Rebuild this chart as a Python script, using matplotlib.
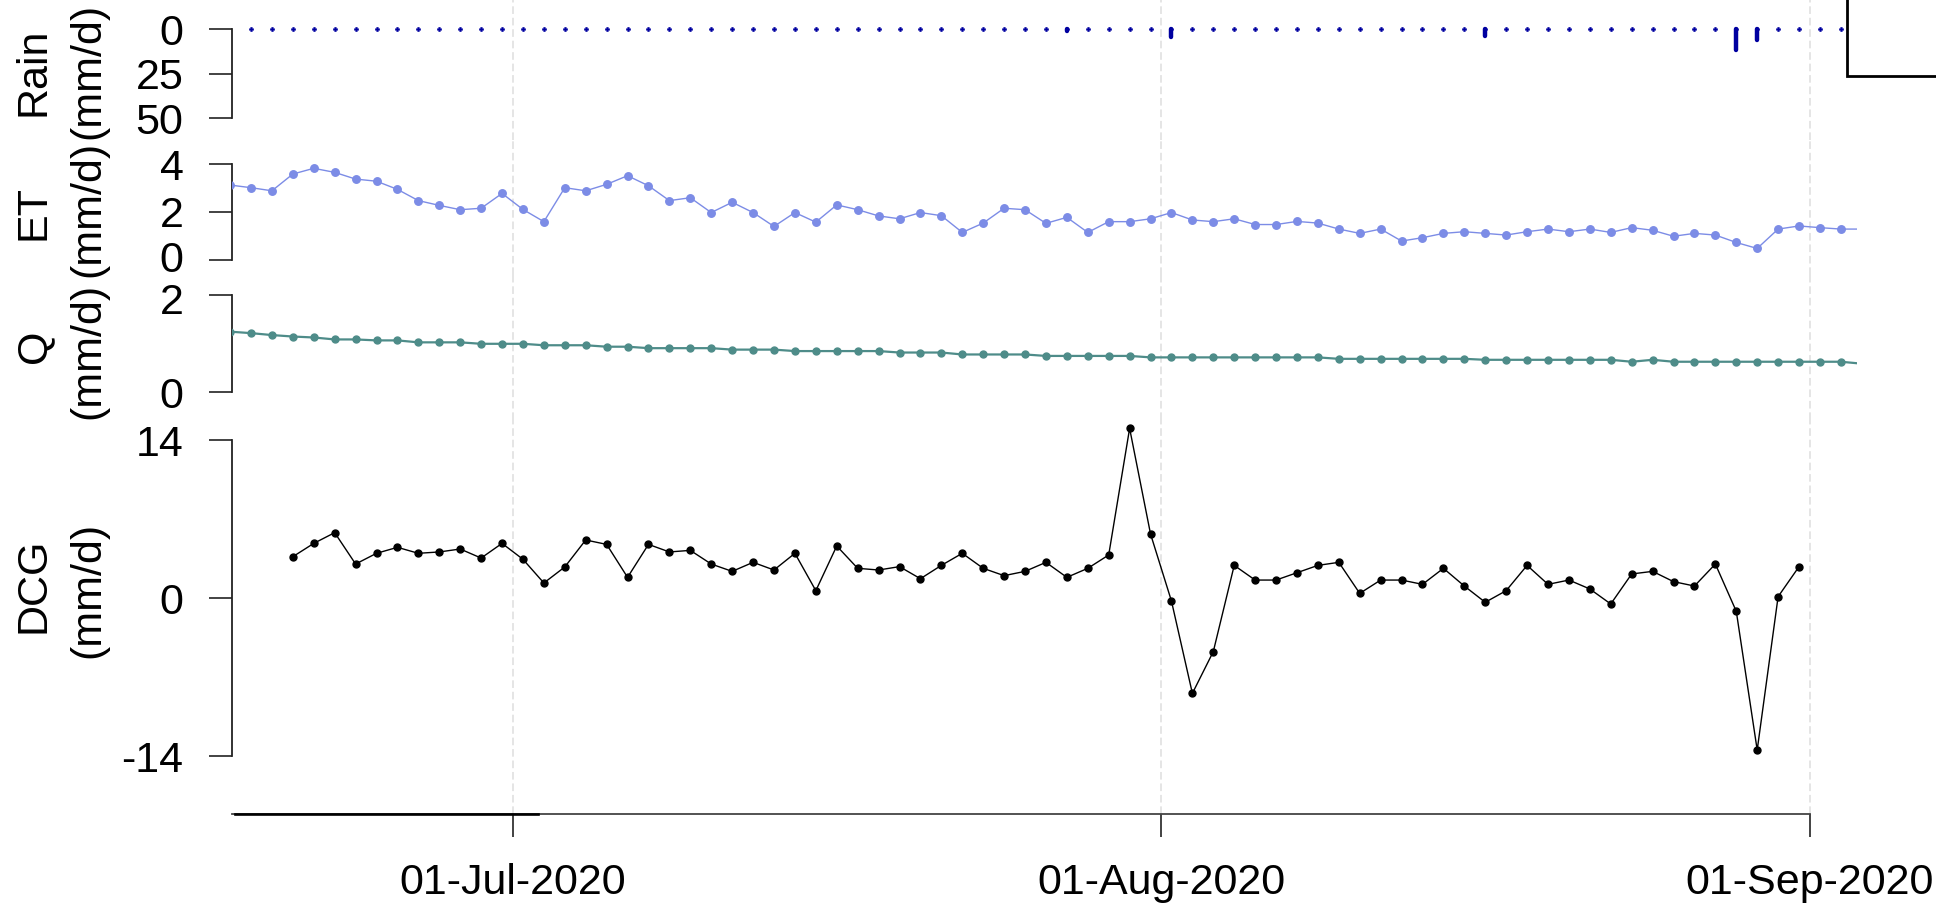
import numpy as np
import pandas as pd
import matplotlib
matplotlib.use('Agg')
import matplotlib.pyplot as plt
import matplotlib.dates as mdates
from matplotlib.patches import Rectangle
from matplotlib.transforms import offset_copy

plt.rcParams['font.family'] = ['Liberation Sans', 'DejaVu Sans']

# daily series, 17-Jun-2020 .. 03-Sep-2020 (values at noon)
days = pd.date_range('2020-06-17 12:00', periods=79, freq='D')

et = [3.12, 3.01, 2.88, 3.58, 3.82, 3.65, 3.37, 3.28, 2.94, 2.47,
      2.27, 2.09, 2.15, 2.77, 2.10, 1.59, 3.01, 2.88, 3.15, 3.51,
      3.09, 2.47, 2.59, 1.97, 2.40, 1.97, 1.39, 1.97, 1.57, 2.29,
      2.09, 1.83, 1.71, 1.97, 1.84, 1.14, 1.53, 2.15, 2.09, 1.52,
      1.77, 1.14, 1.59, 1.59, 1.71, 1.97, 1.66, 1.59, 1.71, 1.47,
      1.47, 1.60, 1.53, 1.28, 1.10, 1.28, 0.78, 0.92, 1.10, 1.17,
      1.10, 1.03, 1.17, 1.28, 1.17, 1.28, 1.14, 1.34, 1.23, 0.98,
      1.10, 1.03, 0.72, 0.47, 1.28, 1.41, 1.34, 1.28, 1.28]

q = [1.25, 1.22, 1.18, 1.15, 1.13, 1.09, 1.09, 1.07, 1.07, 1.03,
     1.03, 1.03, 1.00, 1.00, 1.00, 0.97, 0.97, 0.97, 0.94, 0.94,
     0.91, 0.91, 0.91, 0.91, 0.88, 0.88, 0.88, 0.85, 0.85, 0.85,
     0.85, 0.85, 0.82, 0.82, 0.82, 0.78, 0.78, 0.78, 0.78, 0.75,
     0.75, 0.75, 0.75, 0.75, 0.72, 0.72, 0.72, 0.72, 0.72, 0.72,
     0.72, 0.72, 0.72, 0.69, 0.69, 0.69, 0.69, 0.69, 0.69, 0.69,
     0.67, 0.67, 0.67, 0.67, 0.67, 0.67, 0.67, 0.63, 0.67, 0.63,
     0.63, 0.63, 0.63, 0.63, 0.63, 0.63, 0.63, 0.63, 0.59]

# rain from 18-Jun
rain = [0, 0, 0, 0, 0, 0, 0, 0, 0, 0,
        0, 0, 0, 0, 0, 0, 0, 0, 0, 0,
        0, 0, 0, 0, 0, 0, 0, 0, 0, 0,
        0, 0, 0, 0, 0, 0, 0, 0, 0, 0.8,
        0, 0, 0, 0, 4.5, 0, 0, 0, 0, 0,
        0, 0, 0, 0, 0, 0, 0, 0, 0, 3.5,
        0, 0, 0, 0, 0, 0, 0, 0, 0, 0,
        0, 11.5, 6.0, 0, 0, 0, 0, 0]

# DCG from 20-Jun to 31-Aug
dcg = [3.66, 4.84, 5.79, 3.01, 3.96, 4.49, 3.96, 4.08, 4.34, 3.54,
       4.84, 3.43, 1.33, 2.75, 5.14, 4.75, 1.83, 4.75, 4.08, 4.22,
       3.01, 2.36, 3.16, 2.48, 3.96, 0.65, 4.61, 2.63, 2.48, 2.78,
       1.71, 2.89, 3.96, 2.63, 1.98, 2.36, 3.16, 1.83, 2.63, 3.81,
       15.03, 5.67, -0.27, -8.45, -4.75, 2.89, 1.59, 1.59, 2.24, 2.89,
       3.16, 0.41, 1.59, 1.59, 1.21, 2.63, 1.06, -0.38, 0.65, 2.89,
       1.21, 1.59, 0.80, -0.53, 2.13, 2.36, 1.45, 1.06, 3.01, -1.18,
       -13.47, 0.12, 2.78]

month_ticks = pd.to_datetime(['2020-07-01', '2020-08-01', '2020-09-01'])
month_labels = [d.strftime('%d-%b-%Y') for d in month_ticks]

W, H = 1936, 905
fig = plt.figure(figsize=(W / 100, H / 100), dpi=100)

X0, X1 = 232, 1857
FS = 31


def panel(top, bottom, p1, v1, p2, v2):
    ax = fig.add_axes([X0 / W, 1 - bottom / H, (X1 - X0) / W, (bottom - top) / H])
    k = (v2 - v1) / (p2 - p1)
    ax.set_ylim(v1 + (bottom - p1) * k, v1 + (top - p1) * k)
    ax.patch.set_alpha(0)
    return ax


ax_rain = panel(0, 140, 29.3, 0, 118.3, 50)
ax_et = panel(140, 275, 164, 4, 259.7, 0)
ax_q = panel(275, 420, 295.3, 2, 392.3, 0)
ax_dcg = panel(420, 813.7, 440, 14, 756, -14)

# x scale: 01-Jul at 512.5 px, 01-Sep at 1809.5 px
jul1 = mdates.date2num(month_ticks[0])
sep1 = mdates.date2num(month_ticks[2])
ppd = (1809.5 - 512.5) / (sep1 - jul1)
xl = (jul1 - (512.5 - X0) / ppd, jul1 + (X1 - 512.5) / ppd)

# y tick labels drawn by hand so the crowded ones between panels can be eased apart
axes = [(ax_rain, [0, 25, 50], [0, 0, 0]),
        (ax_et, [0, 2, 4], [2.5, 0, 0]),
        (ax_q, [0, 2], [0, -2.5]),
        (ax_dcg, [-14, 0, 14], [0, 0, 0])]
for ax, yt, nudge in axes:
    ax.set_xlim(*xl)
    for s in ['top', 'right', 'bottom']:
        ax.spines[s].set_visible(False)
    ax.spines['left'].set_bounds(min(yt), max(yt))
    ax.spines['left'].set_linewidth(1.3)
    ax.spines['left'].set_color('#222222')
    ax.set_yticks(yt)
    ax.set_yticklabels([])
    ax.tick_params(axis='y', length=16.5, width=1.2, color='#222222')
    ax.tick_params(axis='x', bottom=False, labelbottom=False)
    for v, dy in zip(yt, nudge):
        tr = offset_copy(ax.get_yaxis_transform(), fig=fig, x=-35, y=dy, units='points')
        ax.text(0, v, str(v), transform=tr, ha='right', va='center_baseline', fontsize=FS)
    for t in month_ticks:
        ax.axvline(t, color='#dedede', lw=1.1, ls=(0, (5, 2.5)), zorder=0)

# rain as short bars hanging from zero
ax_rain.vlines(days[1:], 0, rain, color='#0000a0', lw=3.2, capstyle='round', zorder=3)
ax_rain.plot(days[1:], np.zeros(len(rain)), ls='none', marker='P', ms=3.2,
             color='#0000a0', mec='#0000a0', mew=0.3, zorder=3)

ax_et.plot(days, et, color='#7c8ce6', lw=1.0, marker='o', ms=5.4, mec='#7c8ce6', zorder=3)
ax_q.plot(days, q, color='#4e8c89', lw=1.6, marker='o', ms=5.0, mec='#4e8c89', zorder=3)
ax_dcg.plot(days[3:76], dcg, color='black', lw=1.0, marker='o', ms=5.0, zorder=3)

# bottom date axis
ax_dcg.spines['bottom'].set_visible(True)
ax_dcg.spines['bottom'].set_bounds(xl[0], sep1)
ax_dcg.spines['bottom'].set_color('#444444')
ax_dcg.spines['bottom'].set_linewidth(1.3)
ax_dcg.plot([xl[0] + 0.15, jul1 + 1.22], [0, 0], transform=ax_dcg.get_xaxis_transform(),
            color='black', lw=1.9, clip_on=False, zorder=4)
ax_dcg.set_xticks(month_ticks)
ax_dcg.set_xticklabels(month_labels)
ax_dcg.tick_params(axis='x', bottom=True, labelbottom=True, length=16.5, width=1.2,
                   color='#222222', pad=19, labelsize=FS)

# y axis titles, two lines each
titles = [('Rain', 72), ('ET', 213), ('Q', 346), ('DCG', 585)]
for name, yc in titles:
    fig.text(34 / W, 1 - yc / H, name, rotation=90, ha='center', va='center', fontsize=FS)
for yc in [71, 209, 351, 590]:
    fig.text(88 / W, 1 - yc / H, '(mm/d)', rotation=90, ha='center', va='center', fontsize=FS)

# legend frame in the top right corner
fig.patches.append(Rectangle((1847 / W, 1 - 76 / H), 200 / W, 200 / H,
                             transform=fig.transFigure, facecolor='white',
                             edgecolor='black', lw=2.0, zorder=10))

fig.savefig('out.png', dpi=100, facecolor='white')
